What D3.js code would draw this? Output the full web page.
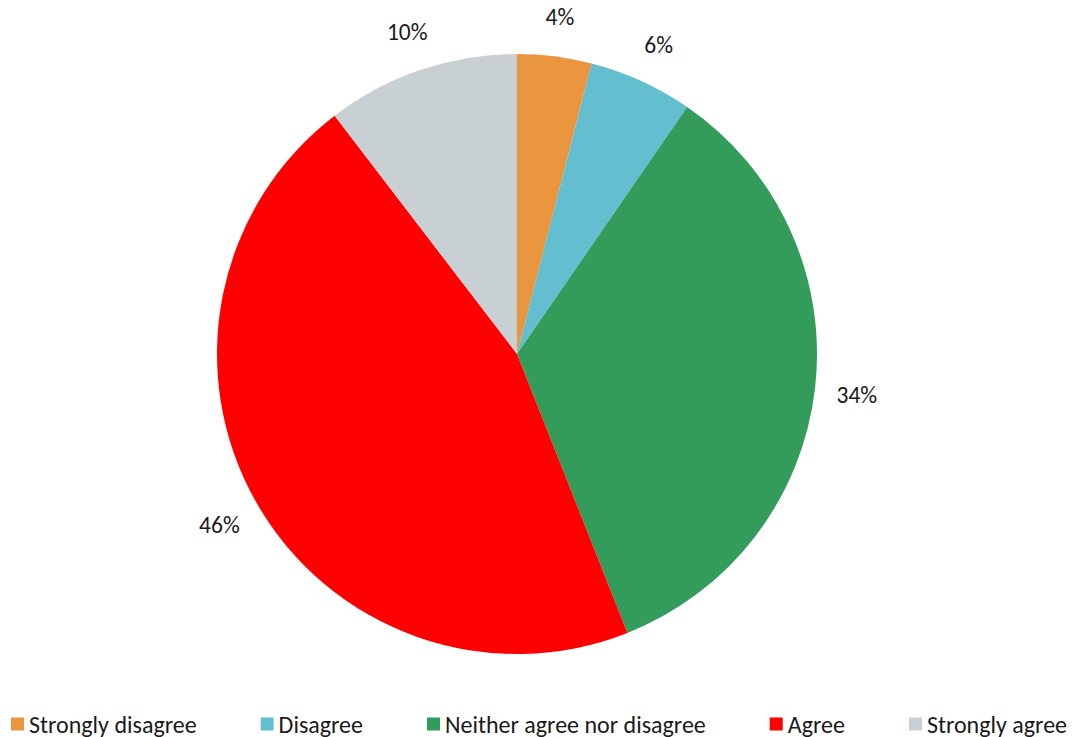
<!DOCTYPE html>
<html>
<head>
<meta charset="utf-8">
<script src="https://cdn.jsdelivr.net/npm/d3@7"></script>
<style>
  html, body { margin: 0; padding: 0; background: #ffffff; }
  svg text { font-family: Carlito, Calibri, Lato, "Open Sans", sans-serif; fill: #1a1a1a; }
</style>
</head>
<body>
<svg id="chart" width="1072" height="737"></svg>
<script>
// Survey response shares (percent)
const categories = ["Strongly disagree", "Disagree", "Neither agree nor disagree", "Agree", "Strongly agree"];
const shares = [4.0, 5.6, 34.4, 45.6, 10.4];
const colors = ["#E9963F", "#63BECF", "#339C5A", "#FF0000", "#C9D0D4"];

const width = 1072, height = 737;
const cx = 517, cy = 354, radius = 300, labelRadius = 342;

const svg = d3.select("#chart");
const fmt = v => d3.format(".0f")(v) + "%";

const data = categories.map((c, i) => ({ category: c, value: shares[i], color: colors[i] }));

const pie = d3.pie().value(d => d.value).sort(null);
const arc = d3.arc().innerRadius(0).outerRadius(radius);
const labelArc = d3.arc().innerRadius(labelRadius).outerRadius(labelRadius);

const g = svg.append("g").attr("transform", `translate(${cx},${cy})`);
const arcs = pie(data);

g.selectAll("path.slice")
  .data(arcs)
  .join("path")
  .attr("class", "slice")
  .attr("d", arc)
  .attr("fill", d => d.data.color);

g.selectAll("text.pct")
  .data(arcs)
  .join("text")
  .attr("class", "pct")
  .attr("transform", d => `translate(${labelArc.centroid(d)})`)
  .attr("dy", "0.1em")
  .attr("text-anchor", "middle")
  .attr("dominant-baseline", "central")
  .style("font-size", "23.5px")
  .text(d => fmt(d.data.value));

// Legend, one row centred under the pie
const legend = svg.append("g").attr("class", "legend");
const swatch = 13, textGap = 5, itemGap = 64, legendY = 724;
const items = legend.selectAll("g.item")
  .data(data)
  .join("g")
  .attr("class", "item");
items.append("rect")
  .attr("width", swatch).attr("height", swatch)
  .attr("y", legendY - swatch / 2)
  .attr("fill", d => d.color);
items.append("text")
  .attr("x", swatch + textGap)
  .attr("y", legendY)
  .attr("dominant-baseline", "central")
  .style("font-size", "24px")
  .text(d => d.category);

let x = 0;
const offsets = [];
items.each(function () {
  offsets.push(x);
  const w = d3.select(this).select("text").node().getComputedTextLength();
  x += swatch + textGap + w + itemGap;
});
const total = x - itemGap;
const startX = 539 - total / 2;
items.attr("transform", (d, i) => `translate(${startX + offsets[i]},0)`);
</script>
</body>
</html>
